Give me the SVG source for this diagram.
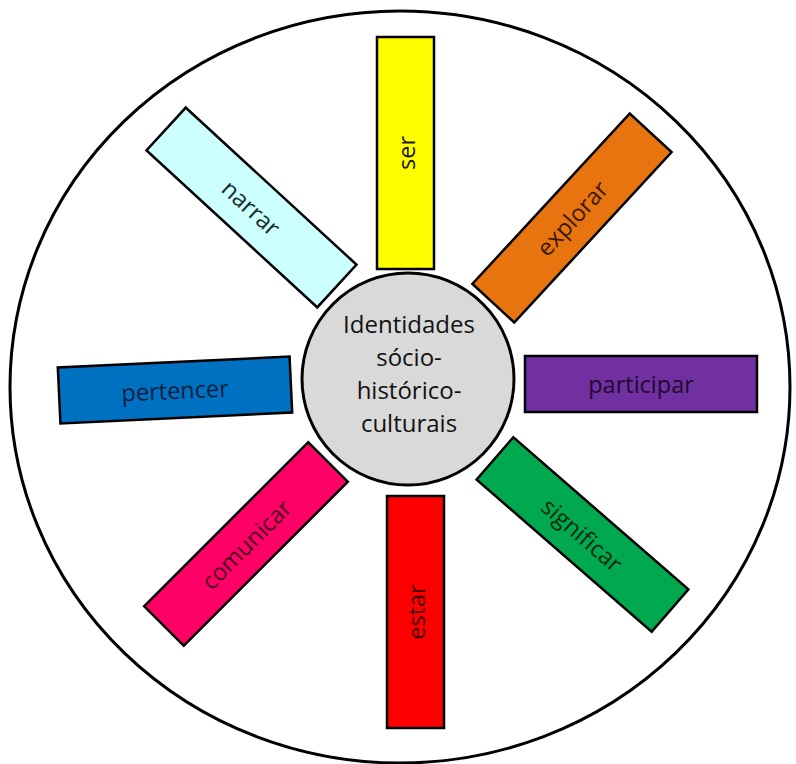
<svg xmlns="http://www.w3.org/2000/svg" width="796" height="764" viewBox="0 0 796 764">
<style>
.box{stroke:#000;stroke-width:2.5}
.lbl{font-family:"Open Sans","Noto Sans",sans-serif;font-size:23.5px;text-anchor:middle;dominant-baseline:central}
.ctr{font-family:"Open Sans","Noto Sans",sans-serif;font-size:24px;text-anchor:middle;fill:#111}
</style>
<rect width="796" height="764" fill="#fff"/>
<ellipse id="outer" cx="400" cy="387" rx="390" ry="376" fill="#fff" stroke="#000" stroke-width="3"/>
<g id="ser" transform="translate(405.5,153)"><rect class="box" x="-28.5" y="-116" width="57" height="232" fill="#ffff00"/><text class="lbl" transform="rotate(-90)" fill="#1a1a00">ser</text></g>
<g id="estar" transform="translate(415.5,612)"><rect class="box" x="-28.5" y="-116" width="57" height="232" fill="#ff0000"/><text class="lbl" transform="rotate(-90)" fill="#4a0000">estar</text></g>
<g id="narrar" transform="translate(251.5,207.5) rotate(42.6)"><rect class="box" x="-116" y="-29" width="232" height="58" fill="#ccffff"/><text class="lbl" fill="#1a2a2a">narrar</text></g>
<g id="explorar" transform="translate(572,218) rotate(-47.3)"><rect class="box" x="-116" y="-28.5" width="232" height="57" fill="#e8740f"/><text class="lbl" fill="#3a1a00">explorar</text></g>
<g id="pertencer" transform="translate(175,390) rotate(-2.7)"><rect class="box" x="-116" y="-28" width="232" height="56" fill="#0070c0"/><text class="lbl" fill="#0a2040">pertencer</text></g>
<g id="participar" transform="translate(641,384)"><rect class="box" x="-116" y="-28" width="232" height="56" fill="#7030a0"/><text class="lbl" fill="#1e0a30">participar</text></g>
<g id="comunicar" transform="translate(246,544) rotate(-45)"><rect class="box" x="-116" y="-28" width="232" height="56" fill="#ff0066"/><text class="lbl" fill="#4a0020">comunicar</text></g>
<g id="significar" transform="translate(582.5,534.5) rotate(41)"><rect class="box" x="-116" y="-28" width="232" height="56" fill="#00a94f"/><text class="lbl" fill="#0a2a10">significar</text></g>
<g id="center"><circle cx="408" cy="379" r="106" fill="#d9d9d9" stroke="#000" stroke-width="3"/>
<text class="ctr" x="409" y="333">Identidades</text>
<text class="ctr" x="409" y="366">sócio-</text>
<text class="ctr" x="409" y="399">histórico-</text>
<text class="ctr" x="409" y="432">culturais</text></g>
<g id="connectors"/>
</svg>
